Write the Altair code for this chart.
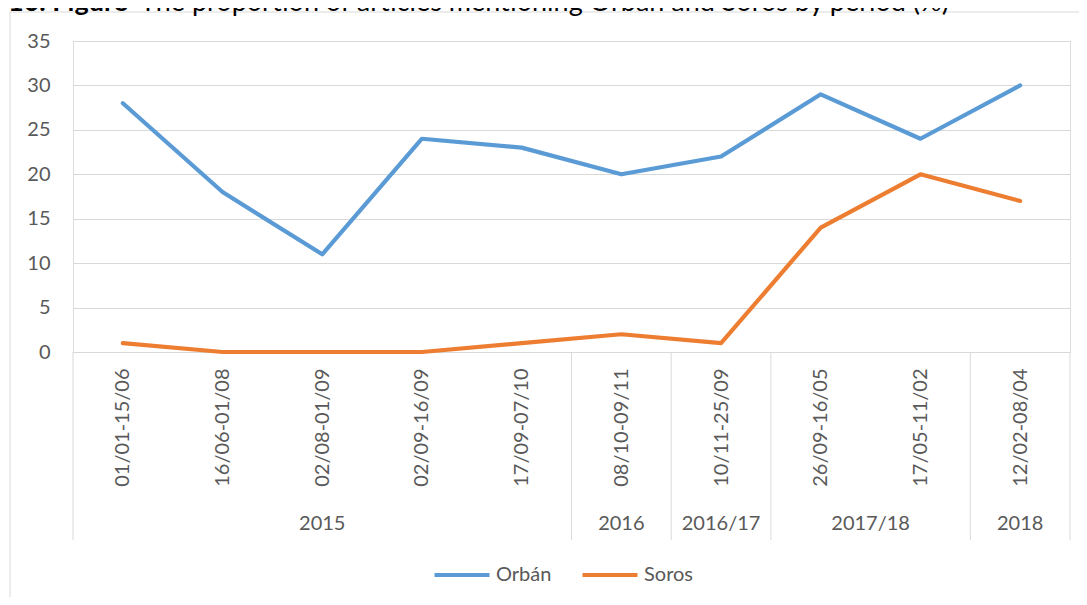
import json
import altair as alt
import pandas as pd

# ---- data ----
periods = ["01/01-15/06", "16/06-01/08", "02/08-01/09", "02/09-16/09", "17/09-07/10",
           "08/10-09/11", "10/11-25/09", "26/09-16/05", "17/05-11/02", "12/02-08/04"]
orban = [28, 18, 11, 24, 23, 20, 22, 29, 24, 30]
soros = [1, 0, 0, 0, 1, 2, 1, 14, 20, 17]
groups = ["2015", "2016", "2016/17", "2017/18", "2018"]
group_sizes = [5, 1, 1, 2, 1]
series_names = ["Orbán", "Soros"]
series_colors = ["#5B9BD5", "#ED7D31"]
title_bold = "10. Figure"
title_rest = "The proportion of articles mentioning Orbán and Soros by period (%)"

# ---- tables ----
rows = []
for name, vals in zip(series_names, [orban, soros]):
    for i, (p, v) in enumerate(zip(periods, vals)):
        rows.append({"idx": i, "period": p, "series": name, "value": v})
df = pd.DataFrame(rows)

grp_rows, bnd_rows = [], [{"b": -0.5}]
start = 0
for g, n in zip(groups, group_sizes):
    grp_rows.append({"label": g, "center": start + (n - 1) / 2})
    start += n
    bnd_rows.append({"b": start - 0.5})
gdf = pd.DataFrame(grp_rows)
bdf = pd.DataFrame(bnd_rows)

W, H = 997, 311
FONT = "Lato"
GRAY = "#D9D9D9"
TXT = "#595959"

xs = alt.Scale(domain=[-0.5, len(periods) - 0.5], nice=False, zero=False)
ys = alt.Scale(domain=[0, 35], nice=False)

lines = alt.Chart(df).mark_line(strokeWidth=4.2, strokeCap="round", strokeJoin="round").encode(
    x=alt.X("idx:Q", scale=xs, axis=alt.Axis(
        values=list(range(len(periods))),
        labelExpr=json.dumps(periods) + "[datum.value]",
        labelAngle=270, labelAlign="right", labelBaseline="middle",
        labelPadding=16, ticks=False, grid=False, domainColor=GRAY, domainWidth=1,
        labelFont=FONT, labelFontSize=20, labelColor=TXT, title=None,
        labelOverlap=False, labelFlush=False)),
    y=alt.Y("value:Q", scale=ys, axis=alt.Axis(
        values=list(range(0, 36, 5)), grid=True, gridColor=GRAY, gridWidth=1,
        ticks=False, domain=False, labelPadding=23, labelFont=FONT,
        labelFontSize=20, labelColor=TXT, title=None)),
    color=alt.Color("series:N", scale=alt.Scale(domain=series_names, range=series_colors),
                    legend=alt.Legend(orient="none", legendX=359, legendY=504,
                                      direction="horizontal", title=None,
                                      symbolType="stroke", symbolSize=3025,
                                      symbolStrokeWidth=4.2, labelFont=FONT,
                                      labelFontSize=20, labelColor=TXT,
                                      columnPadding=22, labelOffset=4, padding=0)),
)

seps = alt.Chart(bdf).mark_rule(color=GRAY, strokeWidth=1).encode(
    x=alt.X("b:Q", scale=xs), y=alt.value(H), y2=alt.value(499))

glabels = alt.Chart(gdf).mark_text(font=FONT, fontSize=20, color=TXT, baseline="middle").encode(
    x=alt.X("center:Q", scale=xs), y=alt.value(483), text="label:N")

border_top = alt.Chart(pd.DataFrame({"a": [0]})).mark_rule(color=GRAY, strokeWidth=1).encode(
    x=alt.value(-63), x2=alt.value(W + 20), y=alt.value(-29))
border_left = alt.Chart(pd.DataFrame({"a": [0]})).mark_rule(color=GRAY, strokeWidth=1).encode(
    x=alt.value(-63), y=alt.value(-29), y2=alt.value(H + 260))

t1 = alt.Chart(pd.DataFrame({"t": [title_bold]})).mark_text(
    font=FONT, fontSize=27, fontWeight="bold", color="#000000", align="left", baseline="alphabetic").encode(
    x=alt.value(-65), y=alt.value(-30), text="t:N")
t2 = alt.Chart(pd.DataFrame({"t": [title_rest]})).mark_text(
    font=FONT, fontSize=27, color="#000000", align="left", baseline="alphabetic").encode(
    x=alt.value(-65 + 132), y=alt.value(-30), text="t:N")

chart = alt.layer(border_top, border_left, t1, t2, seps, glabels, lines).properties(
    width=W, height=H,
    autosize=alt.AutoSizeParams(type="none"),
    padding={"left": 65, "top": 33, "right": 9, "bottom": 245},
).configure_view(stroke=None).configure(background="white")

chart.save("out.html", embed_options={"renderer": "svg", "actions": False})
